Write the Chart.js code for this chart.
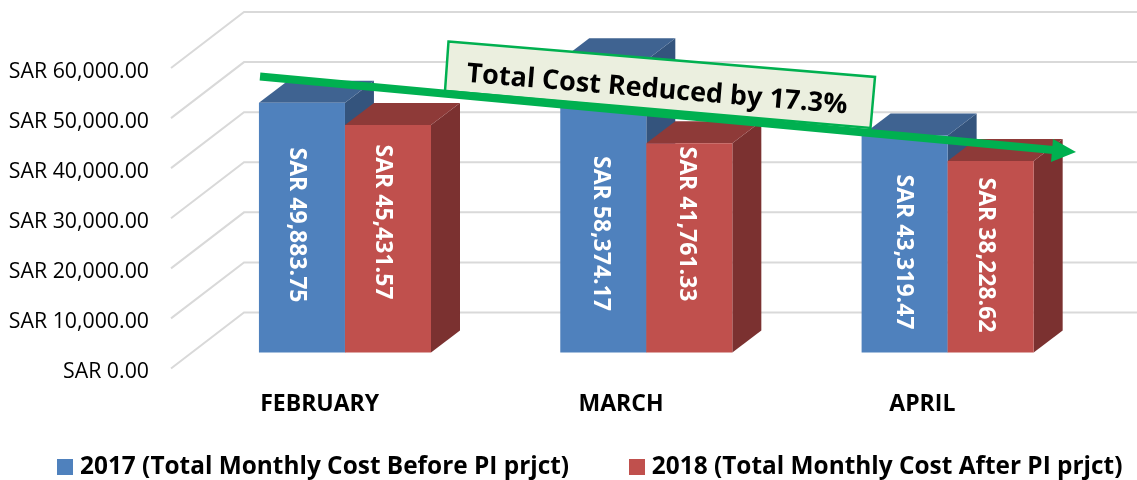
<!DOCTYPE html>
<html><head><meta charset="utf-8">
<style>html,body{margin:0;padding:0;background:#fff}canvas{display:block}</style>
<script src="https://cdn.jsdelivr.net/npm/chart.js@4"></script>
</head><body>
<canvas id="c" width="1137" height="480"></canvas>
<script>
const categories = ["FEBRUARY", "MARCH", "APRIL"];
const series2017Label = "2017 (Total Monthly Cost Before PI prjct)";
const series2018Label = "2018 (Total Monthly Cost After PI prjct)";
const values2017 = [49883.75, 58374.17, 43319.47];
const values2018 = [45431.57, 41761.33, 38228.62];
const yTicks = [0, 10000, 20000, 30000, 40000, 50000, 60000];
const calloutText = "Total Cost Reduced by 17.3%";

const FONT = '"Open Sans"';
const fmt = v => "SAR " + v.toLocaleString("en-US", {minimumFractionDigits: 2, maximumFractionDigits: 2});

// layout of the fake 3D projection
const wall = {dx: 74, dy: -56};
const plane = {dx: 24.3, dy: -16};
const depth = {dx: 29, dy: -22};
const faces = [
  {top: "#3F6391", side: "#34547D"},
  {top: "#8E3A38", side: "#7B3130"}
];
// centre of each rotated value label: x nudge from bar centre, absolute y
const labelPlace = [
  [[-5, 225], [-3, 233.5], [-1, 252]],
  [[-5, 222], [-3, 224], [-5, 255]]
];

// legend swatch: a 16px square drawn as the legend's point style
function swatch(color) {
  const c = document.createElement("canvas");
  c.width = 16; c.height = 16;
  const x = c.getContext("2d");
  x.fillStyle = color;
  x.fillRect(0, 0, 16, 16);
  return c;
}

const scene = {
  id: "scene",
  beforeLayout(chart) {
    const lg = chart.legend;
    if (lg && !lg._wrapped) {
      const fit = lg.fit.bind(lg);
      lg.fit = function () { this.maxWidth = 5000; fit(); this.height = 40; };
      lg._wrapped = true;
    }
  },
  afterLayout(chart) {
    const lg = chart.legend;
    lg.left = -2.8; lg.right = 1500; lg.top = 389.5; lg.bottom = 480;
  },
  beforeDatasetsDraw(chart) {
    const {ctx, scales: {y}, chartArea: a} = chart;
    ctx.save();
    ctx.strokeStyle = "#D9D9D9";
    ctx.lineWidth = 2;
    y.ticks.forEach(t => {
      const py = y.getPixelForValue(t.value);
      ctx.beginPath();
      ctx.moveTo(a.left + 1, py);
      ctx.lineTo(a.left + wall.dx, py + wall.dy);
      ctx.lineTo(a.right + wall.dx, py + wall.dy);
      ctx.stroke();
    });
    ctx.restore();
    // painter's order: first series at the back, each bar's depth faces under its front face
    chart.data.datasets.forEach((ds, i) => {
      const meta = chart.getDatasetMeta(i);
      const f = faces[i];
      ctx.save();
      ctx.translate(plane.dx, plane.dy);
      meta.data.forEach(b => {
        const l = b.x - b.width / 2, r = b.x + b.width / 2;
        ctx.fillStyle = f.side;
        ctx.beginPath();
        ctx.moveTo(r, b.y); ctx.lineTo(r + depth.dx, b.y + depth.dy);
        ctx.lineTo(r + depth.dx, b.base + depth.dy); ctx.lineTo(r, b.base);
        ctx.closePath(); ctx.fill();
        ctx.fillStyle = f.top;
        ctx.beginPath();
        ctx.moveTo(l, b.y); ctx.lineTo(l + depth.dx, b.y + depth.dy);
        ctx.lineTo(r + depth.dx, b.y + depth.dy); ctx.lineTo(r, b.y);
        ctx.closePath(); ctx.fill();
      });
      meta.controller.draw();
      ctx.restore();
    });
  },
  beforeDatasetDraw() { return false; },
  afterDatasetsDraw(chart) {
    const {ctx} = chart;
    // rotated value labels
    ctx.save();
    ctx.fillStyle = "#fff";
    ctx.font = "bold 23px " + FONT;
    ctx.textAlign = "center";
    ctx.textBaseline = "middle";
    chart.data.datasets.forEach((ds, i) => {
      chart.getDatasetMeta(i).data.forEach((b, j) => {
        ctx.save();
        ctx.translate(b.x + plane.dx + labelPlace[i][j][0], labelPlace[i][j][1]);
        ctx.rotate(Math.PI / 2);
        ctx.fillText(fmt(ds.data[j]), 0, 0);
        ctx.restore();
      });
    });
    ctx.restore();
    // callout
    ctx.save();
    ctx.beginPath();
    ctx.moveTo(448.5, 41.5); ctx.lineTo(875, 77); ctx.lineTo(870.5, 128); ctx.lineTo(445, 91);
    ctx.closePath();
    ctx.fillStyle = "#EBEFDF"; ctx.fill();
    ctx.strokeStyle = "#00B050"; ctx.lineWidth = 2.5; ctx.stroke();
    ctx.save();
    ctx.translate(657, 90);
    ctx.rotate(Math.atan2(35.5, 426.5));
    ctx.fillStyle = "#000";
    ctx.font = "bold 27px " + FONT;
    ctx.textAlign = "center"; ctx.textBaseline = "middle";
    ctx.fillText(calloutText, 0, 0);
    ctx.restore();
    // trend arrow
    ctx.strokeStyle = "#00B050"; ctx.lineWidth = 8;
    ctx.beginPath(); ctx.moveTo(260, 76.5); ctx.lineTo(1056, 150.2); ctx.stroke();
    ctx.fillStyle = "#00B050";
    ctx.beginPath(); ctx.moveTo(1076, 152); ctx.lineTo(1053, 139); ctx.lineTo(1051, 162); ctx.closePath(); ctx.fill();
    ctx.restore();
  }
};

new Chart(document.getElementById("c"), {
  type: "bar",
  data: {
    labels: categories,
    datasets: [
      {label: series2017Label, data: values2017, backgroundColor: "#4F81BD"},
      {label: series2018Label, data: values2018, backgroundColor: "#C0504D"}
    ]
  },
  plugins: [scene],
  options: {
    responsive: false,
    animation: false,
    devicePixelRatio: 1,
    layout: {autoPadding: false, padding: {top: 68, left: 0, right: 63, bottom: 0}},
    datasets: {bar: {barPercentage: 1, categoryPercentage: 0.571, borderWidth: 0}},
    scales: {
      x: {
        grid: {display: false, drawTicks: false},
        border: {display: false},
        afterFit(s) { s.height = 71.5; },
        ticks: {padding: 22, labelOffset: -1, color: "#000", maxRotation: 0, font: {family: FONT, size: 23, weight: "bold"}}
      },
      y: {
        min: 0, max: 60000,
        grid: {display: false, drawTicks: false},
        border: {display: false},
        afterBuildTicks(s) { s.ticks = yTicks.map(v => ({value: v})); },
        afterFit(s) { s.width = 170; },
        ticks: {padding: 21, labelOffset: 3.5, color: "#000", callback: v => fmt(v), font: {family: FONT, size: 21.3}}
      }
    },
    plugins: {
      title: {display: false},
      tooltip: {enabled: false},
      legend: {
        position: "bottom",
        align: "start",
        labels: {
          usePointStyle: true, pointStyleWidth: 5.6, boxHeight: 16, padding: 65, color: "#000",
          font: {family: FONT, size: 24.4, weight: "bold"},
          generateLabels(chart) {
            const items = Chart.defaults.plugins.legend.labels.generateLabels(chart);
            items.forEach(it => { it.pointStyle = swatch(it.fillStyle); });
            return items;
          }
        }
      }
    }
  }
});
</script>
</body></html>
